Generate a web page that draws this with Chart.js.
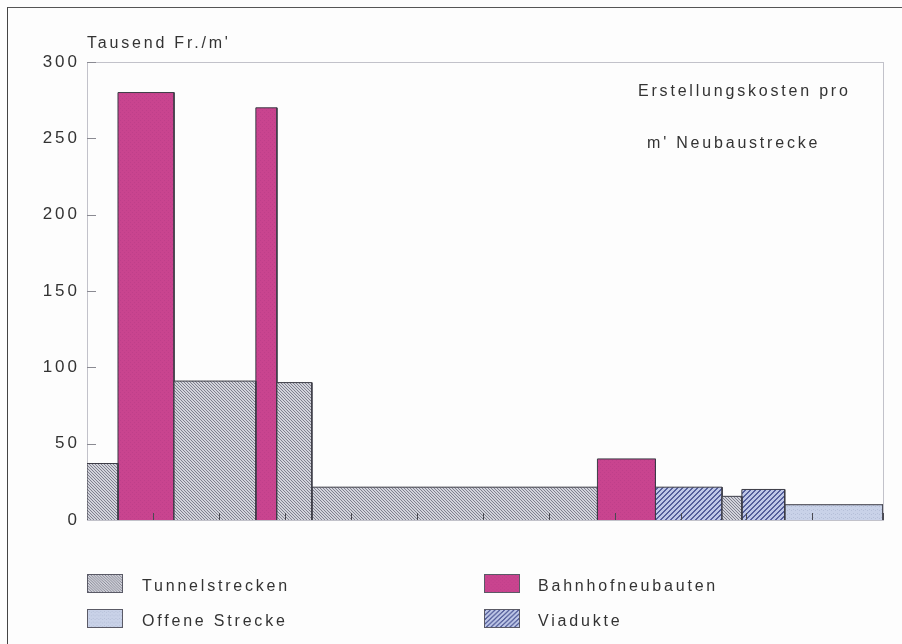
<!DOCTYPE html>
<html lang="de">
<head>
  <meta charset="UTF-8">
  <title>Erstellungskosten pro m' Neubaustrecke</title>
  <style>
    body { margin: 0; background: #fdfdfd; }
    #wrap { position: relative; width: 902px; height: 644px; overflow: hidden;
      font-family: "Liberation Sans", Arial, sans-serif; color: #333; }
    #frame { position: absolute; left: 7px; top: 7px; width: 1000px; height: 1000px;
      border-left: 1.5px solid #444; border-top: 1.5px solid #555; }
    .txt { position: absolute; font-size: 16px; line-height: 16px; letter-spacing: 2.8px; white-space: nowrap; }
    .sw { position: absolute; width: 36px; height: 19px; box-sizing: border-box; border: 1px solid #5a5a66; }
    canvas#chart { position: absolute; left: 0; top: 0; }
  </style>
</head>
<body>
<div id="wrap">
  <div id="frame"></div>
  <canvas id="chart" width="902" height="644"></canvas>
  <div class="txt" style="left:87px; top:35px;">Tausend Fr./m'</div>
  <div class="txt" style="left:638px; top:83px;">Erstellungskosten pro</div>
  <div class="txt" style="left:647px; top:135px;">m' Neubaustrecke</div>

  <canvas class="sw" id="swT" width="36" height="19" style="left:87px; top:574px;"></canvas>
  <div class="txt" style="left:142px; top:578px;">Tunnelstrecken</div>
  <canvas class="sw" id="swO" width="36" height="19" style="left:87px; top:609px;"></canvas>
  <div class="txt" style="left:142px; top:613px;">Offene Strecke</div>
  <canvas class="sw" id="swB" width="36" height="19" style="left:484px; top:574px;"></canvas>
  <div class="txt" style="left:538px; top:578px;">Bahnhofneubauten</div>
  <canvas class="sw" id="swV" width="36" height="19" style="left:484px; top:609px;"></canvas>
  <div class="txt" style="left:538px; top:613px;">Viadukte</div>
</div>

<script src="https://cdn.jsdelivr.net/npm/chart.js"></script>
<script>
// Strecke in km (x), Kosten in Tausend Fr./m' (y)
const tunnelFrom = [0, 1.32, 2.88, 3.41, 9.63];
const tunnelTo = [0.47, 2.56, 3.41, 7.74, 9.93];
const tunnelCost = [37, 91, 90, 21.5, 15.5];

const bahnhofFrom = [0.47, 2.56, 7.74];
const bahnhofTo = [1.32, 2.88, 8.62];
const bahnhofCost = [280, 270, 40];

const viaduktFrom = [8.62, 9.93];
const viaduktTo = [9.63, 10.58];
const viaduktCost = [21.5, 20];

const offenFrom = [10.58];
const offenTo = [12.07];
const offenCost = [10];

const yTicks = [0, 50, 100, 150, 200, 250, 300];

// fill patterns
function makePattern(kind) {
  const c = document.createElement('canvas');
  const g = c.getContext('2d');
  if (kind === 'tunnel') {
    c.width = 3; c.height = 3;
    g.fillStyle = '#d2d3db'; g.fillRect(0, 0, 3, 3);
    g.fillStyle = '#7f808e';
    for (let i = 0; i < 3; i++) g.fillRect(i, i, 1, 1);
  } else if (kind === 'viadukt') {
    c.width = 5; c.height = 5;
    g.fillStyle = '#bfc8e8'; g.fillRect(0, 0, 5, 5);
    g.fillStyle = '#56609c';
    for (let i = 0; i < 5; i++) { g.fillRect(i, 4 - i, 1, 1); g.fillRect(i, (5 - i) % 5, 1, 1); }
  } else if (kind === 'offen') {
    c.width = 4; c.height = 4;
    g.fillStyle = '#c9d2e8'; g.fillRect(0, 0, 4, 4);
    g.fillStyle = '#b5bfd8'; g.fillRect(1, 1, 1, 1); g.fillRect(3, 2, 1, 1);
  } else {
    c.width = 4; c.height = 4;
    g.fillStyle = '#c9448f'; g.fillRect(0, 0, 4, 4);
    g.fillStyle = '#bf3f8a'; g.fillRect(0, 0, 1, 1); g.fillRect(2, 2, 1, 1);
  }
  return g.createPattern(c, 'repeat');
}

const fills = {
  tunnel: makePattern('tunnel'),
  bahnhof: makePattern('bahnhof'),
  viadukt: makePattern('viadukt'),
  offen: makePattern('offen')
};

function rects(from, to, cost, fill) {
  return from.map(function (x0, i) {
    return {
      data: [{x: x0, y: 0}, {x: x0, y: cost[i]}, {x: to[i], y: cost[i]}, {x: to[i], y: 0}],
      fill: 'origin',
      backgroundColor: fill,
      borderColor: '#3c3c46',
      borderWidth: 1,
      pointRadius: 0,
      tension: 0
    };
  });
}

// legend swatches
[['swT', 'tunnel'], ['swO', 'offen'], ['swB', 'bahnhof'], ['swV', 'viadukt']].forEach(function (s) {
  const g = document.getElementById(s[0]).getContext('2d');
  g.fillStyle = fills[s[1]];
  g.fillRect(0, 0, 36, 19);
});

const axisMarks = {
  id: 'axisMarks',
  beforeDraw(chart) {
    chart.ctx.letterSpacing = '3px';
  },
  beforeDatasetsDraw(chart) {
    const {ctx, chartArea: a} = chart;
    ctx.save();
    ctx.strokeStyle = '#c2c2ca';
    ctx.lineWidth = 1;
    ctx.strokeRect(Math.round(a.left) + 0.5, Math.round(a.top) + 0.5, a.right - a.left, a.bottom - a.top);
    ctx.restore();
  },
  afterDatasetsDraw(chart) {
    const {ctx, chartArea: a, scales} = chart;
    ctx.save();
    ctx.lineWidth = 1;
    ctx.strokeStyle = '#8a8a92';
    scales.y.ticks.forEach(function (t) {
      if (t.value === 0) return;
      const y = Math.round(scales.y.getPixelForValue(t.value)) + 0.5;
      ctx.beginPath(); ctx.moveTo(a.left, y); ctx.lineTo(a.left + 9, y); ctx.stroke();
    });
    ctx.strokeStyle = '#4a4a52';
    scales.x.ticks.forEach(function (t) {
      if (t.value === 0) return;
      const x = Math.round(scales.x.getPixelForValue(t.value)) + 0.5;
      ctx.beginPath(); ctx.moveTo(x, a.bottom); ctx.lineTo(x, a.bottom - 7); ctx.stroke();
    });
    ctx.restore();
  }
};

new Chart(document.getElementById('chart'), {
  type: 'line',
  data: {
    datasets: [].concat(
      rects(tunnelFrom, tunnelTo, tunnelCost, fills.tunnel),
      rects(bahnhofFrom, bahnhofTo, bahnhofCost, fills.bahnhof),
      rects(viaduktFrom, viaduktTo, viaduktCost, fills.viadukt),
      rects(offenFrom, offenTo, offenCost, fills.offen)
    )
  },
  options: {
    responsive: false,
    animation: false,
    layout: { padding: { left: 0, right: 19, top: 62, bottom: 124 } },
    plugins: { legend: { display: false }, tooltip: { enabled: false } },
    scales: {
      x: {
        type: 'linear', min: 0, max: 12.07,
        ticks: { display: false, stepSize: 1 },
        grid: { display: false, drawTicks: false },
        border: { display: false },
        afterFit(s) { s.height = 0; }
      },
      y: {
        min: 0, max: 300,
        afterBuildTicks(s) { s.ticks = yTicks.map(function (v) { return {value: v}; }); },
        ticks: {
          padding: 7,
          color: '#333',
          font: { family: '"Liberation Sans", Arial, sans-serif', size: 17 }
        },
        grid: { display: false, drawTicks: false },
        border: { display: false },
        afterFit(s) { s.width = 87; }
      }
    }
  },
  plugins: [axisMarks]
});
</script>
</body>
</html>
